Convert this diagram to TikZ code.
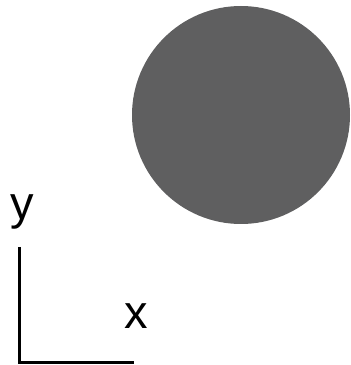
\documentclass[tikz,border=0pt]{standalone}
\usepackage{fontspec}
\setmainfont{Liberation Sans}
\definecolor{discgray}{HTML}{5F5F60}
\begin{document}
\begin{tikzpicture}[x=1pt,y=1pt,
  axis/.style={line width=3pt,black},
  lbl/.style={font=\fontsize{47}{47}\selectfont,inner sep=0pt,anchor=base}]
\useasboundingbox (0,0) rectangle (351,365);
\fill[discgray] (241,250) circle (109);
\coordinate (top) at (19.5,118);
\coordinate (origin) at (19.5,2.5);
\coordinate (right) at (134,2.5);
\draw[axis] (top) -- (origin) -- (right);
\node[lbl] (ylab) at (22,145) {y};
\node[lbl] (xlab) at (136,37) {x};
\end{tikzpicture}
\end{document}
